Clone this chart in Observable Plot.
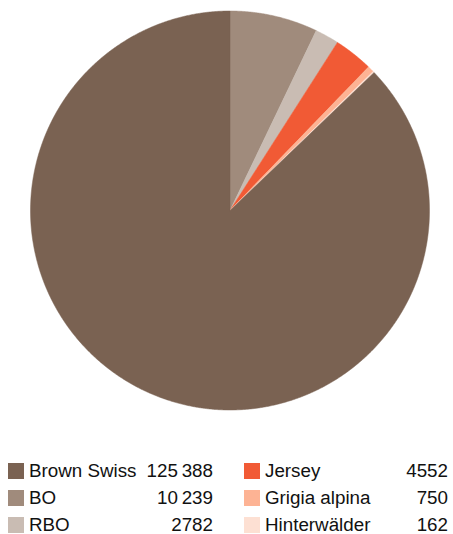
<!DOCTYPE html>
<html>
<head>
<meta charset="utf-8">
<script src="https://cdn.jsdelivr.net/npm/d3@7"></script>
<script src="https://cdn.jsdelivr.net/npm/@observablehq/plot@0.6"></script>
<style>
  html, body { margin: 0; padding: 0; background: #fff; }
  body { width: 453px; height: 534px; position: relative; overflow: hidden;
         font-family: "Liberation Sans", Arial, Helvetica, sans-serif; color: #111; }
  #chart svg { display: block; }
  .item { position: absolute; height: 20px; font-size: 18.8px; line-height: 20px; }
  .sw { position: absolute; left: 0; top: 2px; width: 16px; height: 16px; }
  .lab { position: absolute; left: 21px; top: 0; white-space: nowrap; }
  .val { position: absolute; right: 0; top: 0; white-space: nowrap; }
</style>
</head>
<body>
<div id="chart"></div>
<div id="legend"></div>
<script>
const breeds = ["Brown Swiss", "BO", "RBO", "Jersey", "Grigia alpina", "Hinterwälder"];
const counts = [125388, 10239, 2782, 4552, 750, 162];
const labels = ["125\u2009388", "10\u2009239", "2782", "4552", "750", "162"];
const colors = ["#7a6252", "#a08b7c", "#c9bcb3", "#f15a35", "#fdb394", "#fde0d3"];

// Pie order clockwise from 12 o'clock: BO … Hinterwälder, then Brown Swiss
const pieOrder = [1, 2, 3, 4, 5, 0];
const pieData = pieOrder.map(i => ({name: breeds[i], value: counts[i]}));
const arcs = d3.pie().sort(null).value(d => d.value)(pieData);

const pts = [];
for (const a of arcs) {
  const n = Math.max(2, Math.ceil((a.endAngle - a.startAngle) / 0.005));
  pts.push({name: a.data.name, x: 0, y: 0});
  for (let k = 0; k <= n; k++) {
    const t = a.startAngle + (a.endAngle - a.startAngle) * k / n;
    pts.push({name: a.data.name, x: Math.sin(t), y: Math.cos(t)});
  }
  pts.push({name: a.data.name, x: 0, y: 0});
}

const plot = Plot.plot({
  width: 453,
  height: 440,
  margin: 0,
  x: {domain: [-1, 1], range: [30, 429], axis: null},
  y: {domain: [-1, 1], range: [409.5, 10.5], axis: null},
  color: {domain: breeds, range: colors},
  marks: [
    Plot.line(pts, {x: "x", y: "y", z: "name", fill: "name", stroke: "name", strokeWidth: 0.5, curve: "linear"})
  ]
});
document.getElementById("chart").appendChild(plot);

// Legend
const legend = document.getElementById("legend");
const cols = [{left: 8, width: 205}, {left: 244, width: 204}];
const rowTops = [461, 488, 515];
breeds.forEach((b, i) => {
  const col = cols[Math.floor(i / 3)];
  const row = i % 3;
  const el = document.createElement("div");
  el.className = "item";
  el.style.left = col.left + "px";
  el.style.width = col.width + "px";
  el.style.top = rowTops[row] + "px";
  el.innerHTML = `<span class="sw" style="background:${colors[i]}"></span><span class="lab">${b}</span><span class="val">${labels[i]}</span>`;
  legend.appendChild(el);
});
</script>
</body>
</html>
